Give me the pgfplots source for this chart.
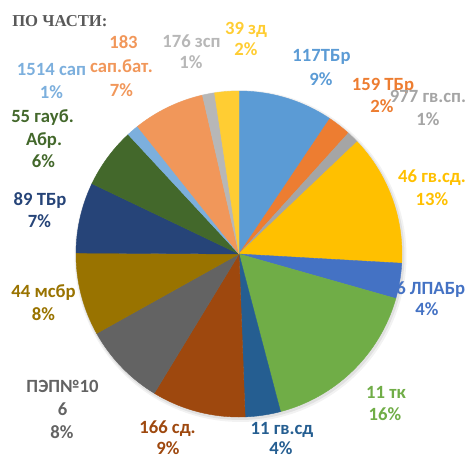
\documentclass[border=0pt]{standalone}
\usepackage{fontspec}
\setmainfont{Carlito}
\newfontfamily\titlefont{Liberation Serif}
\usepackage{pgfplots}
\usepackage{pgfplotstable}
\pgfplotsset{compat=1.18}
\definecolor{c117}{HTML}{5B9BD5}
\definecolor{c159}{HTML}{ED7D31}
\definecolor{c977}{HTML}{A5A5A5}
\definecolor{c46}{HTML}{FFC000}
\definecolor{cLPA}{HTML}{4472C4}
\definecolor{c11tk}{HTML}{70AD47}
\definecolor{c11gv}{HTML}{255E91}
\definecolor{c166}{HTML}{9E480E}
\definecolor{cPEP}{HTML}{636363}
\definecolor{c44}{HTML}{997300}
\definecolor{c89}{HTML}{264478}
\definecolor{c55}{HTML}{43682B}
\definecolor{c1514}{HTML}{7CAFDD}
\definecolor{c183}{HTML}{F1975A}
\definecolor{c176}{HTML}{B7B7B7}
\definecolor{c39}{HTML}{FFCD33}
\definecolor{ctitle}{HTML}{595959}
\newcommand{\lbl}{\bfseries\fontsize{14}{16}\selectfont}
\pgfplotstableread[col sep=semicolon]{
value;color
9.4;c117
2.3;c159
1.2;c977
13.0;c46
3.5;cLPA
16.5;c11tk
3.5;c11gv
9.3;c166
8.2;cPEP
8.2;c44
7.0;c89
6.0;c55
1.2;c1514
7.1;c183
1.2;c176
2.4;c39
}\piedata
\begin{document}
\begin{tikzpicture}
\begin{axis}[scale only axis, width=351pt, height=343.5pt,
  xmin=0, xmax=468, ymin=0, ymax=458, y dir=reverse,
  hide axis, clip=false]
\path (rel axis cs:0,0) rectangle (rel axis cs:1,1);
% soft shadow
\addplot[draw=none, fill=black, fill opacity=0.05, domain=0:360, samples=144] ({240.5+166*sin(x)},{256-166*cos(x)}) -- cycle;
\addplot[draw=none, fill=black, fill opacity=0.07, domain=0:360, samples=144] ({240+164.5*sin(x)},{255.5-164.5*cos(x)}) -- cycle;
% slices
\pgfplotstablegetrowsof{\piedata}
\pgfmathtruncatemacro{\N}{\pgfplotsretval-1}
\def\cum{0}
\pgfplotsforeachungrouped \i in {0,...,\N}{%
  \pgfplotstablegetelem{\i}{value}\of\piedata
  \pgfmathsetmacro{\sa}{\cum*3.6}%
  \pgfmathsetmacro{\newcum}{\cum+\pgfplotsretval}%
  \pgfmathsetmacro{\sb}{\newcum*3.6}%
  \global\let\cum\newcum
  \pgfplotstablegetelem{\i}{color}\of\piedata
  \edef\col{\pgfplotsretval}%
  \edef\doplot{\noexpand\addplot[fill=\col, draw=\col, line width=0.3pt, domain=\sa:\sb, samples=60] ({239+163*sin(x)},{254-163*cos(x)}) -- (axis cs:239,254) -- cycle;}%
  \doplot
}
% title
\node[anchor=base west, inner sep=0, text=ctitle, font=\titlefont\bfseries\fontsize{12.5}{14}\selectfont] at (axis cs:12,26) {ПО ЧАСТИ:};
% labels
\tikzset{lab/.style={anchor=base, inner sep=0, font=\lbl}}
\node[lab, text=c39] at (axis cs:246,34.5) {39 зд};
\node[lab, text=c39] at (axis cs:246,55) {2\%};
\node[lab, text=c117] at (axis cs:321.5,61) {117ТБр};
\node[lab, text=c117] at (axis cs:321,85) {9\%};
\node[lab, text=c159] at (axis cs:383,90.5) {159 ТБр};
\node[lab, text=c159] at (axis cs:382,112.5) {2\%};
\node[lab, text=c977] at (axis cs:428,102.5) {977 гв.сп.};
\node[lab, text=c977] at (axis cs:428,125.5) {1\%};
\node[lab, text=c46] at (axis cs:432,182.5) {46 гв.сд.};
\node[lab, text=c46] at (axis cs:432,205) {13\%};
\node[lab, text=cLPA] at (axis cs:426,294) {46 ЛПАБр};
\node[lab, text=cLPA] at (axis cs:427,315) {4\%};
\node[lab, text=c11tk] at (axis cs:386,398) {11 тк};
\node[lab, text=c11tk] at (axis cs:385,420) {16\%};
\node[lab, text=c11gv] at (axis cs:282,434) {11 гв.сд};
\node[lab, text=c11gv] at (axis cs:281,454.5) {4\%};
\node[lab, text=c166] at (axis cs:167.5,433) {166 сд.};
\node[lab, text=c166] at (axis cs:168,454.5) {9\%};
\node[lab, text=cPEP] at (axis cs:62.5,392) {ПЭП№10};
\node[lab, text=cPEP] at (axis cs:62.5,415.5) {6};
\node[lab, text=cPEP] at (axis cs:62,438.5) {8\%};
\node[lab, text=c44] at (axis cs:43.5,297) {44 мсбр};
\node[lab, text=c44] at (axis cs:43.5,320) {8\%};
\node[lab, text=c89] at (axis cs:40,205) {89 ТБр};
\node[lab, text=c89] at (axis cs:39.5,227) {7\%};
\node[lab, text=c55] at (axis cs:42.5,122.5) {55 гауб.};
\node[lab, text=c55] at (axis cs:44,145) {Абр.};
\node[lab, text=c55] at (axis cs:43.5,167.5) {6\%};
\node[lab, text=c1514] at (axis cs:51.5,75) {1514 сап};
\node[lab, text=c1514] at (axis cs:51.5,98) {1\%};
\node[lab, text=c183] at (axis cs:123.5,48.5) {183};
\node[lab, text=c183] at (axis cs:121.5,72.5) {сап.бат.};
\node[lab, text=c183] at (axis cs:121.5,96.5) {7\%};
\node[lab, text=c176] at (axis cs:191.5,47) {176 зсп};
\node[lab, text=c176] at (axis cs:191,68) {1\%};
\end{axis}
\end{tikzpicture}
\end{document}
